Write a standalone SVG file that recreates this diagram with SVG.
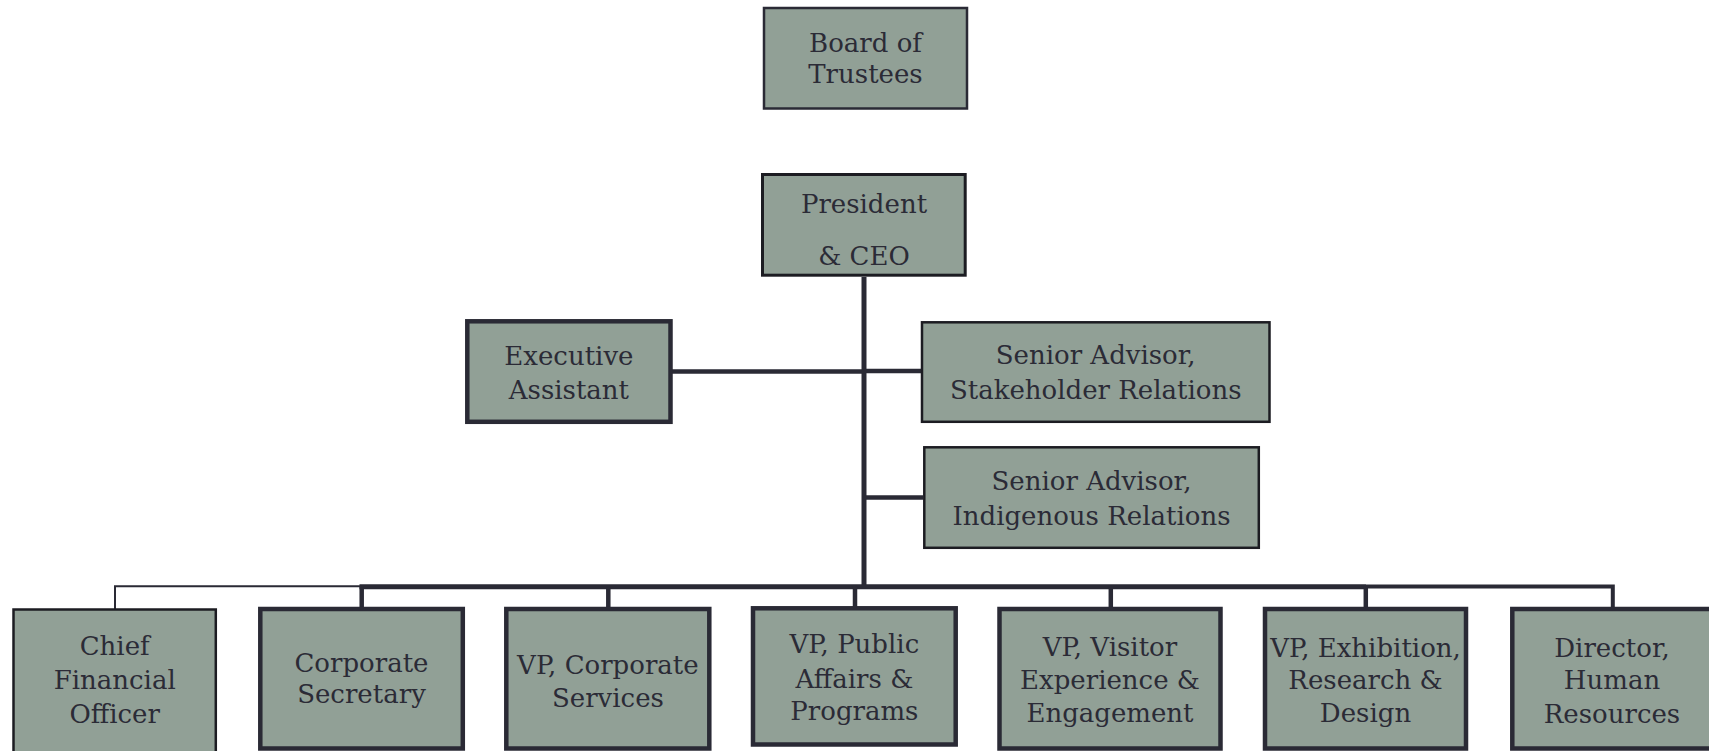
<svg xmlns="http://www.w3.org/2000/svg" width="1709" height="751" viewBox="0 0 1709 751">
<style>
.box{fill:#91a096;stroke:#2a2a35}
.thin{stroke-width:2.5}
.mid{stroke-width:3}
.thick{stroke-width:4.5}
text{font-family:"DejaVu Serif","Liberation Serif",serif;font-size:26px;fill:#2b2b36;text-anchor:middle}
.conn line,.conn polyline{stroke:#2a2a35;fill:none;stroke-linecap:butt}
</style>
<rect width="1709" height="751" fill="#ffffff"/>
<g class="conn" id="connectors">
<line x1="864" y1="277" x2="864" y2="589" stroke-width="5"/>
<line x1="671" y1="371.5" x2="864" y2="371.5" stroke-width="4.5"/>
<line x1="864" y1="371" x2="921" y2="371" stroke-width="4.5"/>
<line x1="864" y1="497.5" x2="923" y2="497.5" stroke-width="4.5"/>
<line x1="359.5" y1="586.7" x2="1366" y2="586.7" stroke-width="5"/>
<polyline points="1366,586.5 1612.8,586.5 1612.8,608" stroke-width="4"/>
<polyline points="361.7,586.2 115,586.2 115,609" stroke-width="2"/>
<line x1="361.7" y1="586" x2="361.7" y2="608" stroke-width="4.5"/>
<line x1="608.3" y1="586" x2="608.3" y2="608" stroke-width="4.5"/>
<line x1="855" y1="586" x2="855" y2="608" stroke-width="4.5"/>
<line x1="1110.8" y1="586" x2="1110.8" y2="608" stroke-width="4.5"/>
<line x1="1365.8" y1="586" x2="1365.8" y2="608" stroke-width="4.5"/>
</g>
<g id="board">
<rect class="box thin" x="764" y="8" width="203" height="100.5"/>
<text x="865.5" y="52">Board of</text>
<text x="865.5" y="83.3">Trustees</text>
</g>
<g id="president">
<rect class="box mid" x="762.5" y="174.5" width="202.7" height="100.7" style="stroke:#1c1c22"/>
<text x="864" y="213.3">President</text>
<text x="864" y="265">&amp; CEO</text>
</g>
<g id="exec-assistant">
<rect class="box thick" x="467.3" y="321.3" width="203.2" height="100.5"/>
<text x="568.9" y="365">Executive</text>
<text x="568.9" y="399">Assistant</text>
</g>
<g id="senior-stakeholder">
<rect class="box thin" x="922" y="322.3" width="347.5" height="99.5" style="stroke:#1c1c22"/>
<text x="1095.7" y="364">Senior Advisor,</text>
<text x="1095.7" y="399">Stakeholder Relations</text>
</g>
<g id="senior-indigenous">
<rect class="box thin" x="924.3" y="447.3" width="334.5" height="100.5" style="stroke:#1c1c22"/>
<text x="1091.5" y="490">Senior Advisor,</text>
<text x="1091.5" y="525">Indigenous Relations</text>
</g>
<g id="cfo">
<rect class="box thin" x="13.5" y="609.5" width="202.3" height="150" style="stroke:#1c1c22"/>
<text x="114.7" y="655">Chief</text>
<text x="114.7" y="689">Financial</text>
<text x="114.7" y="723">Officer</text>
</g>
<g id="corp-secretary">
<rect class="box thick" x="260.3" y="609" width="202.5" height="139.5"/>
<text x="361.5" y="671.7">Corporate</text>
<text x="361.5" y="703.3">Secretary</text>
</g>
<g id="vp-corp-services">
<rect class="box thick" x="506.3" y="609" width="203" height="139.5"/>
<text x="607.9" y="674">VP, Corporate</text>
<text x="607.9" y="706.7">Services</text>
</g>
<g id="vp-public-affairs">
<rect class="box thick" x="753" y="608.3" width="202.7" height="136.2"/>
<text x="854.4" y="653">VP, Public</text>
<text x="854.4" y="688">Affairs &amp;</text>
<text x="854.4" y="720">Programs</text>
</g>
<g id="vp-visitor">
<rect class="box thick" x="999.5" y="609" width="221" height="139.5"/>
<text x="1110" y="656">VP, Visitor</text>
<text x="1110" y="689">Experience &amp;</text>
<text x="1110" y="721.7">Engagement</text>
</g>
<g id="vp-exhibition">
<rect class="box thick" x="1265" y="609" width="201" height="139.5"/>
<text x="1365.5" y="657">VP, Exhibition,</text>
<text x="1365.5" y="689">Research &amp;</text>
<text x="1365.5" y="721.7">Design</text>
</g>
<g id="director-hr">
<rect class="box thick" x="1512.3" y="609" width="240" height="139.5"/>
<text x="1612" y="657">Director,</text>
<text x="1612" y="689">Human</text>
<text x="1612" y="722.7">Resources</text>
</g>
</svg>
